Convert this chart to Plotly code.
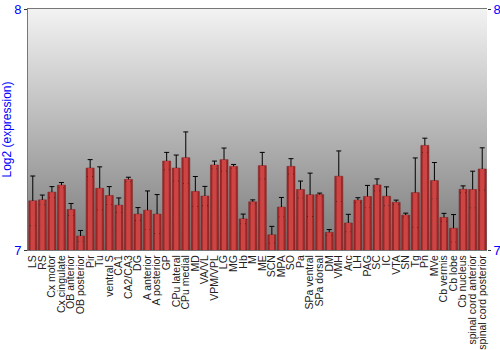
import base64
import plotly.graph_objects as go

regions = ["LS", "RS", "Cx motor", "Cx cingulate", "OB anterior", "OB posterior", "Pir", "Tu",
           "ventral S", "CA1", "CA2/CA3", "DG", "A anterior", "A posterior", "GP", "CPu lateral",
           "CPu medial", "MD", "VA/VL", "VPM/VPL", "LG", "MG", "Hb", "M", "ME", "SCN", "MPA", "SO",
           "Pa", "SPa ventral", "SPa dorsal", "DM", "VMH", "Arc", "LH", "PAG", "SC", "IC", "VTA",
           "SN", "Tg", "Pn", "MVe", "Cb vermis", "Cb lobe", "Cb nucleus",
           "spinal cord anterior", "spinal cord posterior"]

expression = [7.204, 7.208, 7.240, 7.269, 7.168, 7.058, 7.340, 7.256,
              7.226, 7.186, 7.293, 7.149, 7.165, 7.149, 7.369, 7.340,
              7.383, 7.243, 7.224, 7.353, 7.375, 7.347, 7.129, 7.200, 7.350, 7.063, 7.178, 7.347,
              7.251, 7.229, 7.230, 7.073, 7.306, 7.112, 7.207, 7.222, 7.270, 7.223, 7.198,
              7.145, 7.238, 7.434, 7.288, 7.135, 7.090, 7.252,
              7.251, 7.336]

error = [0.103, 0.020, 0.023, 0.011, 0.025, 0.023, 0.035, 0.089,
         0.037, 0.030, 0.009, 0.027, 0.080, 0.081, 0.036, 0.054,
         0.107, 0.062, 0.040, 0.016, 0.048, 0.008, 0.020, 0.008, 0.055, 0.035, 0.040, 0.032,
         0.035, 0.090, 0.006, 0.012, 0.105, 0.036, 0.010, 0.046, 0.025, 0.039, 0.009,
         0.008, 0.144, 0.030, 0.075, 0.017, 0.057, 0.014,
         0.076, 0.088]

y_range = [7, 8]
y_ticks = [7, 8]

svg = ('<svg xmlns="http://www.w3.org/2000/svg" width="100" height="100" preserveAspectRatio="none">'
       '<defs><linearGradient id="g" x1="0" y1="0" x2="0" y2="1">'
       '<stop offset="0" stop-color="#f2f2f2"/><stop offset="1" stop-color="#7a7a7a"/>'
       '</linearGradient></defs><rect width="100" height="100" fill="url(#g)"/></svg>')
bg_src = "data:image/svg+xml;base64," + base64.b64encode(svg.encode()).decode()

fig = go.Figure()
fig.add_trace(go.Bar(
    x=regions, y=[v - y_range[0] for v in expression], base=y_range[0],
    marker=dict(color="#9e2828", line=dict(color="#7a1a1a", width=0.5)),
    width=0.84,
    error_y=dict(type="data", array=error, color="black", thickness=1, width=2.5),
    hoverinfo="skip"))
fig.add_trace(go.Bar(
    x=regions, y=[v - y_range[0] for v in expression], base=y_range[0],
    marker=dict(color="#cc4443", line=dict(width=0)),
    width=0.45, hoverinfo="skip"))
fig.add_trace(go.Scatter(x=[regions[0], regions[-1]], y=y_range, yaxis="y2",
                         mode="markers", marker=dict(opacity=0), hoverinfo="skip"))

fig.update_layout(
    width=500, height=350,
    margin=dict(l=28, r=13, t=9, b=100),
    barmode="overlay",
    showlegend=False,
    paper_bgcolor="white",
    plot_bgcolor="rgba(0,0,0,0)",
    font=dict(family="Liberation Sans, Arial, sans-serif"),
    images=[dict(source=bg_src, xref="paper", yref="paper", x=0, y=1, sizex=1, sizey=1,
                 sizing="stretch", layer="below", xanchor="left", yanchor="top")],
    xaxis=dict(tickangle=-90, tickfont=dict(size=10.5, color="#222"), showgrid=False,
               tickmode="array", tickvals=regions, ticktext=regions, automargin=False,
               showline=True, linecolor="#777", linewidth=1, mirror=True, ticks="",
               ticklabelstandoff=0,
               range=[-0.5, len(regions) - 0.5]),
    yaxis=dict(range=y_range, tickvals=y_ticks, tickfont=dict(size=13, color="#0000ff"),
               automargin=False,
               showgrid=False, zeroline=False, showline=True, linecolor="#777", linewidth=1,
               ticks="outside", ticklen=3, tickcolor="#333", title=dict(
                   text="Log2 (expression)", font=dict(size=12, color="#0000ff"), standoff=2)),
    yaxis2=dict(range=y_range, tickvals=y_ticks, tickfont=dict(size=13, color="#0000ff"),
                automargin=False,
                overlaying="y", side="right", showgrid=False, zeroline=False,
                ticks="outside", ticklen=3, tickcolor="#333", showline=False),
)

fig.write_html("out.html")
